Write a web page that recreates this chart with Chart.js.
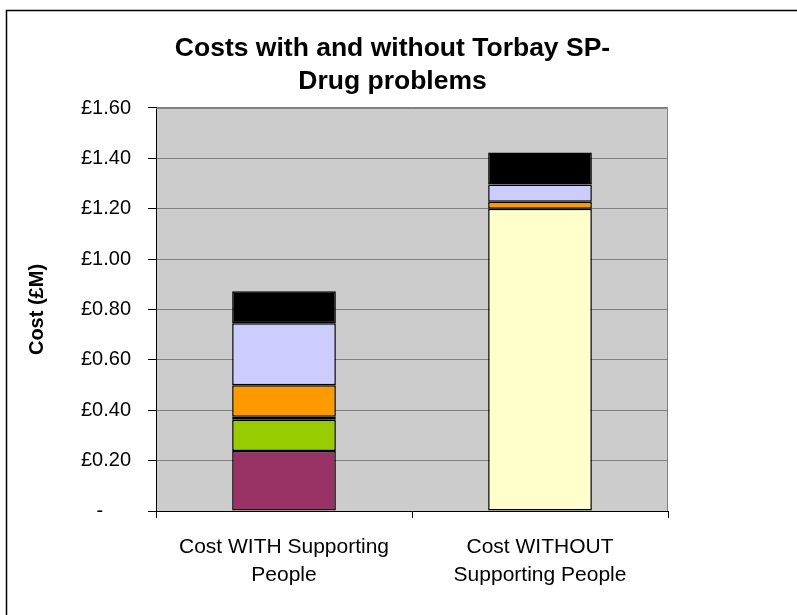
<!DOCTYPE html>
<html>
<head>
<meta charset="utf-8">
<script src="https://cdn.jsdelivr.net/npm/chart.js@4.4.1/dist/chart.umd.min.js"></script>
<style>
  html, body { margin: 0; padding: 0; background: #ffffff; }
  #wrap { width: 797px; height: 615px; position: relative; }
</style>
</head>
<body>
<div id="wrap"><canvas id="chart" width="797" height="615"></canvas></div>
<script>
// Categories (two-line labels)
const categories = [
  ['Cost WITH Supporting', 'People'],
  ['Cost WITHOUT', 'Supporting People']
];

// Cost components in £M, stacked from the bottom up (null = not present)
const costYellow   = [null, 1.200];
const costMaroon   = [0.238, null];
const costGreen    = [0.124, null];
const costPurple   = [0.012, null];
const costOrange   = [0.125, 0.028];
const costLavender = [0.246, 0.068];
const costBlack    = [0.127, 0.127];

// Value-axis labels, bottom to top
const yTickLabels = ['-', '£0.20', '£0.40', '£0.60', '£0.80', '£1.00', '£1.20', '£1.40', '£1.60'];

const titleLines = ['Costs with and without Torbay SP-', 'Drug problems'];
const yAxisTitle = 'Cost (£M)';

const FONT = '"Liberation Sans", Arial, Helvetica, sans-serif';

function seg(data, color) {
  return {
    data: data,
    backgroundColor: color,
    borderColor: '#000000',
    borderWidth: 1.5,
    borderSkipped: false,
    barPercentage: 0.405,
    categoryPercentage: 1.0
  };
}

// Frame around the figure plus the grey plot background
const framePlugin = {
  id: 'frame',
  beforeDraw(chart) {
    const ctx = chart.ctx;
    const a = chart.chartArea;
    ctx.save();
    ctx.fillStyle = '#ffffff';
    ctx.fillRect(0, 0, chart.width, chart.height);
    ctx.strokeStyle = '#000000';
    ctx.lineWidth = 1.5;
    ctx.beginPath();
    ctx.moveTo(6.5, chart.height);
    ctx.lineTo(6.5, 10.5);
    ctx.lineTo(chart.width, 10.5);
    ctx.stroke();
    ctx.fillStyle = '#cccccc';
    ctx.fillRect(a.left, a.top, a.right - a.left, a.bottom - a.top);
    ctx.restore();
  },
  beforeDatasetsDraw(chart) {
    const ctx = chart.ctx;
    const a = chart.chartArea;
    ctx.save();
    ctx.strokeStyle = '#808080';
    ctx.lineWidth = 1;
    ctx.beginPath();
    ctx.moveTo(a.left, Math.round(a.top) + 0.5);
    ctx.lineTo(Math.round(a.right) - 0.5, Math.round(a.top) + 0.5);
    ctx.lineTo(Math.round(a.right) - 0.5, a.bottom);
    ctx.stroke();
    ctx.restore();
  }
};

new Chart(document.getElementById('chart'), {
  type: 'bar',
  data: {
    labels: categories,
    datasets: [
      seg(costYellow, '#ffffcc'),
      seg(costMaroon, '#993366'),
      seg(costGreen, '#99cc00'),
      seg(costPurple, '#660066'),
      seg(costOrange, '#ff9900'),
      seg(costLavender, '#ccccff'),
      seg(costBlack, '#000000')
    ]
  },
  options: {
    responsive: false,
    animation: false,
    devicePixelRatio: 1,
    layout: { padding: { left: 0, right: 12, top: 0, bottom: 0 } },
    plugins: {
      legend: { display: false },
      tooltip: { enabled: false },
      title: {
        display: true,
        text: titleLines,
        color: '#000000',
        font: { family: FONT, size: 26.5, weight: 'bold', lineHeight: 1.245 },
        padding: { top: 32.5, bottom: 9.5 }
      }
    },
    scales: {
      x: {
        stacked: true,
        grid: {
          display: true,
          drawOnChartArea: false,
          offset: true,
          tickLength: 7,
          tickColor: '#000000',
          lineWidth: 1
        },
        border: { display: true, color: '#000000', width: 1 },
        ticks: {
          color: '#000000',
          padding: 16,
          maxRotation: 0,
          autoSkip: false,
          font: { family: FONT, size: 21, lineHeight: 1.3 }
        },
        afterFit(scale) { scale.height = 104; }
      },
      y: {
        stacked: true,
        min: 0,
        max: 1.6,
        ticks: {
          stepSize: 0.2,
          color: '#000000',
          padding: 17,
          font: { family: FONT, size: 20 },
          // accounting-style zero: the dash sits inset from the currency column
          callback: (value, index) => index === 0 ? yTickLabels[0] + '     ' : yTickLabels[index]
        },
        grid: {
          color: '#808080',
          lineWidth: 1,
          tickLength: 8,
          tickColor: '#000000'
        },
        border: { display: true, color: '#000000', width: 1 },
        title: {
          display: true,
          text: yAxisTitle,
          color: '#000000',
          font: { family: FONT, size: 20, weight: 'bold' },
          padding: { top: 25, bottom: 0 }
        },
        afterFit(scale) { scale.width = 156; }
      },
      yRight: {
        position: 'right',
        display: true,
        ticks: { display: false },
        grid: { display: false },
        border: { display: false },
        afterFit(scale) { scale.width = 117; }
      }
    }
  },
  plugins: [framePlugin]
});
</script>
</body>
</html>
